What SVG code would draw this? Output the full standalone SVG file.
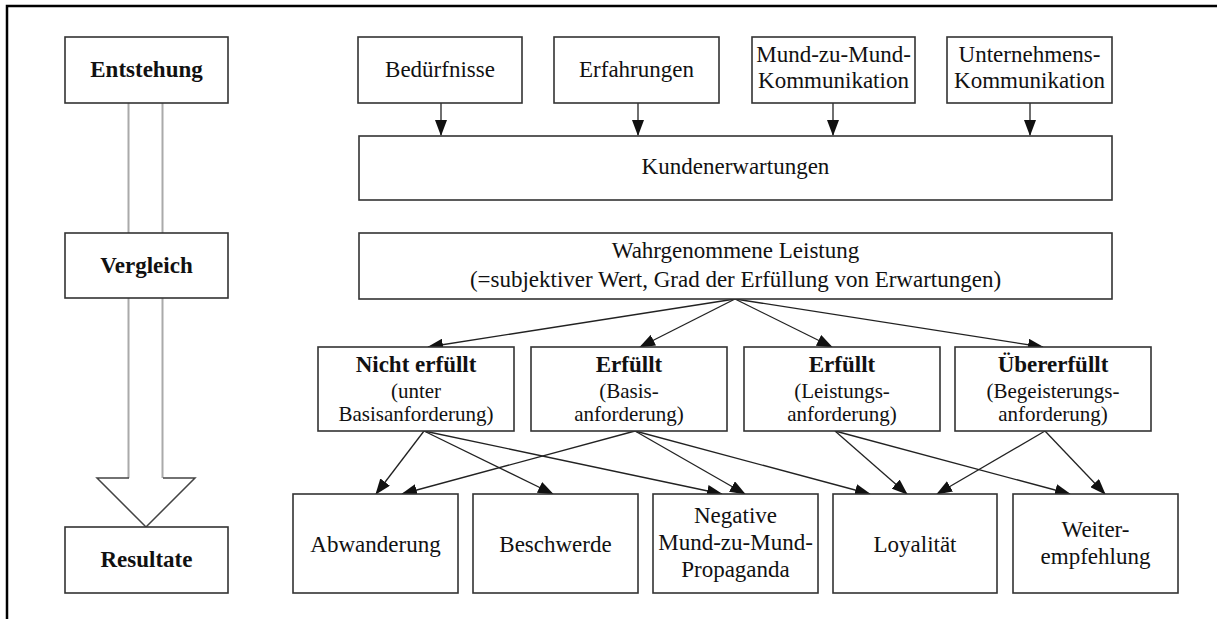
<svg xmlns="http://www.w3.org/2000/svg" width="1217" height="619" viewBox="0 0 1217 619">
<style>
.box{fill:#fff;stroke:#333;stroke-width:1.6}
.t{font-family:"Liberation Serif","Times New Roman",serif;font-size:23px;fill:#111;text-anchor:middle}
.b{font-weight:bold}
.s{font-size:21px}
.c{stroke:#222;stroke-width:1.3;fill:none;marker-end:url(#ah)}
</style>
<defs>
<marker id="ah" markerWidth="16" markerHeight="12" refX="15" refY="6" orient="auto" markerUnits="userSpaceOnUse">
<path d="M0,0 L16,6 L0,12 Z" fill="#111"/>
</marker>
</defs>
<rect x="0" y="0" width="1217" height="619" fill="#fff"/>
<path d="M7,619 V6 H1217" fill="none" stroke="#000" stroke-width="2.5"/>

<g id="phase-arrow">
<line x1="128.5" y1="103" x2="128.5" y2="478" stroke="#aaa" stroke-width="2"/>
<line x1="162.5" y1="103" x2="162.5" y2="478" stroke="#aaa" stroke-width="2"/>
<path d="M129,478 H97 L146,527 L195,478 H163" fill="none" stroke="#444" stroke-width="1.5"/>
</g>

<g id="connectors">
<line class="c" x1="441" y1="103" x2="441" y2="135"/>
<line class="c" x1="638" y1="103" x2="638" y2="135"/>
<line class="c" x1="833" y1="103" x2="833" y2="135"/>
<line class="c" x1="1030" y1="103" x2="1030" y2="135"/>
<line class="c" x1="735" y1="299" x2="428" y2="347"/>
<line class="c" x1="735" y1="299" x2="640" y2="347"/>
<line class="c" x1="735" y1="299" x2="832" y2="347"/>
<line class="c" x1="735" y1="299" x2="1043" y2="347"/>
<line class="c" x1="424" y1="431" x2="376" y2="494"/>
<line class="c" x1="424" y1="431" x2="553" y2="494"/>
<line class="c" x1="424" y1="431" x2="722" y2="494"/>
<line class="c" x1="635" y1="431" x2="402" y2="494"/>
<line class="c" x1="635" y1="431" x2="745" y2="494"/>
<line class="c" x1="635" y1="431" x2="870" y2="494"/>
<line class="c" x1="835" y1="431" x2="907" y2="494"/>
<line class="c" x1="835" y1="431" x2="1070" y2="494"/>
<line class="c" x1="1045" y1="431" x2="937" y2="494"/>
<line class="c" x1="1045" y1="431" x2="1105" y2="494"/>
</g>

<g id="entstehung"><rect class="box" x="65" y="37" width="163" height="66"/><text class="t b" x="146.5" y="77">Entstehung</text></g>
<g id="vergleich"><rect class="box" x="65" y="233" width="163" height="65"/><text class="t b" x="146.5" y="273">Vergleich</text></g>
<g id="resultate"><rect class="box" x="65" y="527" width="163" height="66"/><text class="t b" x="146.5" y="567">Resultate</text></g>

<g id="beduerfnisse"><rect class="box" x="358" y="37" width="164" height="66"/><text class="t" x="440" y="77">Bedürfnisse</text></g>
<g id="erfahrungen"><rect class="box" x="554" y="37" width="165" height="66"/><text class="t" x="636.5" y="77">Erfahrungen</text></g>
<g id="mund"><rect class="box" x="752" y="37" width="163" height="66"/><text class="t" x="833.5" y="62">Mund-zu-Mund-</text><text class="t" x="833.5" y="88">Kommunikation</text></g>
<g id="unternehmen"><rect class="box" x="947" y="37" width="165" height="66"/><text class="t" x="1029.5" y="62">Unternehmens-</text><text class="t" x="1029.5" y="88">Kommunikation</text></g>

<g id="kundenerwartungen"><rect class="box" x="359" y="136" width="753" height="64"/><text class="t" x="735.5" y="174">Kundenerwartungen</text></g>
<g id="wahrgenommen"><rect class="box" x="359" y="233" width="753" height="66"/><text class="t" x="735.5" y="258">Wahrgenommene Leistung</text><text class="t" x="735.5" y="287">(=subjektiver Wert, Grad der Erfüllung von Erwartungen)</text></g>

<g id="nicht-erfuellt"><rect class="box" x="318" y="347" width="196" height="84"/><text class="t b" x="416" y="372">Nicht erfüllt</text><text class="t s" x="416" y="398">(unter</text><text class="t s" x="416" y="421">Basisanforderung)</text></g>
<g id="erfuellt-basis"><rect class="box" x="531" y="347" width="196" height="84"/><text class="t b" x="629" y="372">Erfüllt</text><text class="t s" x="629" y="398">(Basis-</text><text class="t s" x="629" y="421">anforderung)</text></g>
<g id="erfuellt-leistung"><rect class="box" x="744" y="347" width="196" height="84"/><text class="t b" x="842" y="372">Erfüllt</text><text class="t s" x="842" y="398">(Leistungs-</text><text class="t s" x="842" y="421">anforderung)</text></g>
<g id="uebererfuellt"><rect class="box" x="955" y="347" width="196" height="84"/><text class="t b" x="1053" y="372">Übererfüllt</text><text class="t s" x="1053" y="398">(Begeisterungs-</text><text class="t s" x="1053" y="421">anforderung)</text></g>

<g id="abwanderung"><rect class="box" x="293" y="494" width="165" height="99"/><text class="t" x="375.5" y="552">Abwanderung</text></g>
<g id="beschwerde"><rect class="box" x="473" y="494" width="165" height="99"/><text class="t" x="555.5" y="552">Beschwerde</text></g>
<g id="negative"><rect class="box" x="653" y="494" width="165" height="99"/><text class="t" x="735.5" y="523">Negative</text><text class="t" x="735.5" y="550">Mund-zu-Mund-</text><text class="t" x="735.5" y="577">Propaganda</text></g>
<g id="loyalitaet"><rect class="box" x="833" y="494" width="164" height="99"/><text class="t" x="915" y="552">Loyalität</text></g>
<g id="weiterempfehlung"><rect class="box" x="1013" y="494" width="165" height="99"/><text class="t" x="1095.5" y="537">Weiter-</text><text class="t" x="1095.5" y="564">empfehlung</text></g>
</svg>
